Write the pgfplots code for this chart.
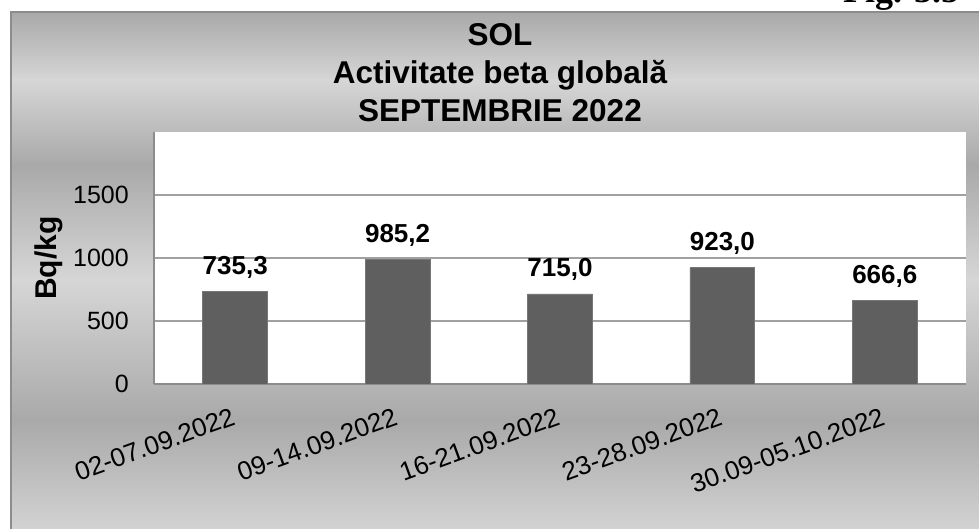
\documentclass[border=0pt]{standalone}
\usepackage{pgfplots}
\pgfplotsset{compat=1.18}
\usepackage{fontspec}
\setmainfont{Liberation Sans}
\newfontfamily\seriffont{Liberation Serif}
\definecolor{bgdark}{HTML}{A9A9A9}
\definecolor{bglight}{HTML}{D6D6D6}
\definecolor{barc}{HTML}{5F5F5F}
\definecolor{gridc}{HTML}{A0A0A0}
\definecolor{axc}{HTML}{8C8C8C}
\begin{document}
\begin{tikzpicture}[x=1pt,y=1pt]
% chart area background (chrome-like gradient)
\shade[top color=bgdark,bottom color=bglight] (11,448.5) rectangle (995,517);
\shade[top color=bglight,bottom color=bgdark] (11,363.5) rectangle (995,449);
\shade[top color=bgdark,bottom color=bglight] (11,248.5) rectangle (995,364);
\shade[top color=bglight,bottom color=bgdark] (11,108.5) rectangle (995,249);
\shade[top color=bgdark,bottom color=bglight] (11,-10) rectangle (995,109);
\draw[axc, line width=1.5pt] (11,-10) -- (11,517) -- (995,517);
% figure number (cut off at top)
\node[font=\seriffont\bfseries\fontsize{36}{40}\selectfont, anchor=base west, inner sep=0pt] at (843,526) {Fig. 3.5};
% titles
\node[font=\bfseries\fontsize{31.5}{34}\selectfont, anchor=base, inner sep=0pt] at (500,483) {SOL};
\node[font=\bfseries\fontsize{31.5}{34}\selectfont, anchor=base, inner sep=0pt] at (500,445) {Activitate beta globală};
\node[font=\bfseries\fontsize{31.5}{34}\selectfont, anchor=base, inner sep=0pt] at (500,407.3) {SEPTEMBRIE 2022};
\begin{axis}[
  at={(154pt,145pt)}, anchor=south west,
  width=812pt, height=252pt, scale only axis,
  xmin=-0.5, xmax=4.5, ymin=0, ymax=2000,
  ybar, bar width=0.4,
  axis background/.style={fill=white},
  axis x line*=bottom, axis y line*=left,
  axis line style={-, draw=axc, line width=1.5pt},
  major tick length=0pt,
  ymajorgrids, grid style={draw=gridc, line width=1.5pt},
  ytick={0,500,1000,1500},
  yticklabels={0,500,1000,1500},
  yticklabel style={font=\fontsize{25}{28}\selectfont, anchor=east, inner sep=0pt, xshift=-25pt},
  xtick={0,1,2,3,4},
  xticklabels={02-07.09.2022,09-14.09.2022,16-21.09.2022,23-28.09.2022,30.09-05.10.2022},
  xticklabel style={font=\fontsize{26}{28}\selectfont, inner sep=0pt, xshift=1.5pt, yshift=-40pt, rotate=20, anchor=base east},
  ylabel={Bq/kg},
  every axis y label/.style={at={([xshift=-105pt]rel axis cs:0,0.5)}, rotate=90, anchor=center, font=\bfseries\fontsize{30}{34}\selectfont},
  nodes near coords,
  point meta=explicit symbolic,
  every node near coord/.append style={font=\bfseries\fontsize{26}{30}\selectfont, anchor=base, inner sep=0pt, yshift=17pt},
]
\addplot[fill=barc, draw=barc!85!white, line width=0.8pt] coordinates {
  (0,735.3) [735,3]
  (1,985.2) [985,2]
  (2,715.0) [715,0]
  (3,923.0) [923,0]
  (4,666.6) [666,6]
};
\end{axis}
\pgfresetboundingbox
\path[use as bounding box] (0,0) rectangle (979,529);
\end{tikzpicture}
\end{document}
